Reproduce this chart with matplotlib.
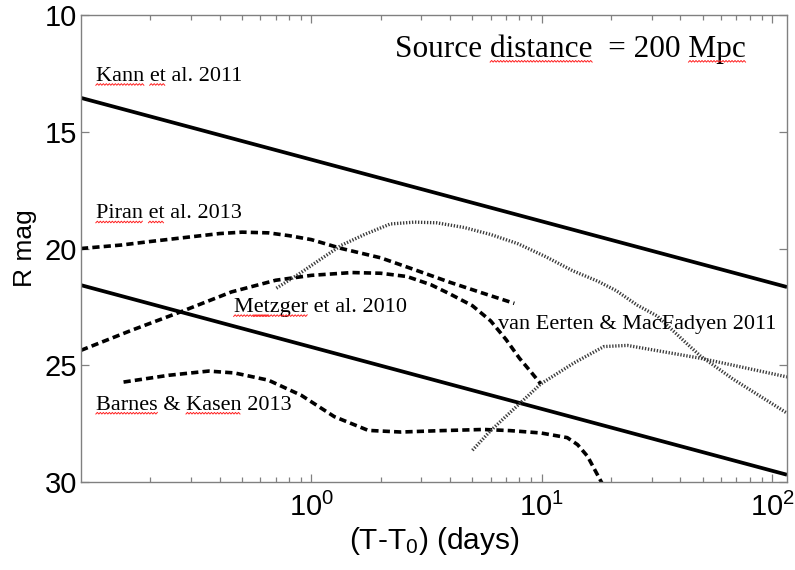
import numpy as np
import matplotlib
matplotlib.use("Agg")
import matplotlib.pyplot as plt
from matplotlib.ticker import FixedLocator, LogLocator, NullFormatter, NullLocator
from matplotlib.lines import Line2D
from matplotlib.transforms import IdentityTransform

# ---- light-curve data: time since merger (days) and R magnitude ----
# Kann et al. 2011 (upper and lower bound of observed short-GRB afterglows)
kann_t = [0.1, 116.0]
kann_upper_mag = [13.55, 21.65]
kann_lower_mag = [21.57, 29.69]

# Piran et al. 2013
piran_t = [0.1, 0.15, 0.2, 0.3, 0.4, 0.5, 0.65, 0.8, 1.0, 1.35, 2.0, 2.7, 4.0, 5.5, 7.6]
piran_mag = [20.0, 19.85, 19.7, 19.5, 19.36, 19.3, 19.33, 19.45, 19.62, 20.0, 20.4,
             20.85, 21.45, 21.9, 22.35]

# Metzger et al. 2010
metzger_t = [0.1, 0.166, 0.273, 0.45, 0.7, 1.0, 1.5, 2.0, 2.6, 3.3, 4.0, 5.0, 6.0,
             7.0, 8.0, 9.0, 9.9]
metzger_mag = [24.36, 23.5, 22.7, 21.86, 21.36, 21.15, 21.03, 21.06, 21.2, 21.55,
               21.95, 22.45, 23.1, 23.9, 24.7, 25.3, 25.8]

# Barnes & Kasen 2013
barnes_t = [0.153, 0.24, 0.358, 0.464, 0.651, 0.905, 1.257, 1.765, 2.45, 3.66, 5.6,
            7.3, 9.9, 12.9, 14.3, 15.8, 18.6]
barnes_mag = [25.72, 25.43, 25.25, 25.33, 25.64, 26.29, 27.2, 27.79, 27.86, 27.8,
              27.75, 27.8, 27.9, 28.1, 28.4, 28.9, 30.2]

# van Eerten & MacFadyen 2011 (two off-axis orphan afterglows)
vee1_t = [0.705, 0.88, 1.1, 1.35, 1.7, 2.2, 2.8, 3.5, 4.6, 6.0, 7.9, 10.4, 13.6, 17.5,
          21.0, 26.0, 31.8, 42.9, 48.8, 67.8, 116.0]
vee1_mag = [21.7, 21.1, 20.45, 19.86, 19.4, 18.95, 18.87, 18.9, 19.1, 19.4, 19.8,
            20.35, 20.95, 21.4, 21.8, 22.43, 22.9, 24.1, 24.6, 25.6, 27.05]
vee2_t = [5.0, 6.0, 7.9, 9.9, 13.8, 18.6, 23.5, 35.0, 48.8, 70.0, 116.0]
vee2_mag = [28.64, 27.8, 26.7, 25.8, 24.9, 24.2, 24.15, 24.45, 24.7, 25.03, 25.5]

model_labels = ["Kann et al. 2011", "Piran et al. 2013", "Metzger et al. 2010",
                "van Eerten & MacFadyen 2011", "Barnes & Kasen 2013"]
distance_note = "Source distance  = 200 Mpc"

x_ticks = [1, 10, 100]
x_ticklabels = [r"$10^0$", r"$10^1$", r"$10^2$"]
y_ticks = [10, 15, 20, 25, 30]

# ---- styling ----
plt.rcParams["font.family"] = ["Liberation Sans", "DejaVu Sans"]
plt.rcParams["mathtext.fontset"] = "custom"
plt.rcParams["mathtext.rm"] = "Liberation Sans"
plt.rcParams["mathtext.default"] = "regular"

SERIF = ["Liberation Serif", "DejaVu Serif"]
FRAME = "#808080"

fig = plt.figure(figsize=(7.95, 5.70), dpi=100)
ax = fig.add_axes([81 / 795, 1 - 482 / 570, (787 - 81) / 795, (482 - 15) / 570])

solid = dict(color="black", lw=2.7, solid_capstyle="butt")
dashed = dict(color="black", lw=2.6, linestyle=(0, (2.0, 1.15)))
dotted = dict(color="#3c3c3c", lw=2.4, linestyle=(0, (0.4, 0.5)))

ax.plot(kann_t, kann_upper_mag, **solid)
ax.plot(kann_t, kann_lower_mag, **solid)
ax.plot(piran_t, piran_mag, **dashed)
ax.plot(metzger_t, metzger_mag, **dashed)
ax.plot(barnes_t, barnes_mag, **dashed)
ax.plot(vee1_t, vee1_mag, **dotted)
ax.plot(vee2_t, vee2_mag, **dotted)

ax.set_xscale("log")
ax.set_xlim(0.1, 116)
ax.set_ylim(30, 10)

ax.xaxis.set_major_locator(FixedLocator(x_ticks))
ax.set_xticklabels(x_ticklabels)
ax.xaxis.set_minor_locator(LogLocator(base=10, subs=np.arange(2, 10)))
ax.xaxis.set_minor_formatter(NullFormatter())
ax.set_yticks(y_ticks)
ax.yaxis.set_minor_locator(NullLocator())

for sp in ax.spines.values():
    sp.set_color(FRAME)
    sp.set_linewidth(1.0)

ax.tick_params(which="both", direction="in", top=True, right=True,
               color=FRAME, width=0.9, labelcolor="black")
ax.tick_params(which="major", length=6, labelsize=21)
ax.tick_params(which="minor", length=3.5)
ax.tick_params(axis="x", which="major", pad=8)
ax.tick_params(axis="y", which="major", pad=3)

ax.set_ylabel("R mag", fontsize=19, labelpad=5)
ax.set_xlabel(r"(T-T$_\mathregular{0}$) (days)", fontsize=21.5, labelpad=2)

# ---- curve annotations ----
txt_kw = dict(family=SERIF, fontsize=16, ha="left", va="baseline", color="black")
t_kann = ax.text(0.116, 12.82, model_labels[0], **txt_kw)
t_piran = ax.text(0.116, 18.71, model_labels[1], **txt_kw)
t_metz = ax.text(0.46, 22.72, model_labels[2], **txt_kw)
t_vee = ax.text(6.45, 23.46, model_labels[3], **txt_kw)
t_barn = ax.text(0.116, 26.9, model_labels[4], **txt_kw)
t_note = ax.text(2.31, 11.79, distance_note, family=SERIF, fontsize=22.5,
                 ha="left", va="baseline", color="black")

# wavy red underlines beneath the flagged words
fig.canvas.draw()
renderer = fig.canvas.get_renderer()


def wavy_underline(txt, words, drop=3.6, step=1.5, amp=0.8):
    s = txt.get_text()
    fp = txt.get_fontproperties()
    x0, yb = txt.get_transform().transform(txt.get_position())
    for w in words:
        i = s.find(w)
        w0 = renderer.get_text_width_height_descent(s[:i], fp, ismath=False)[0] if i > 0 else 0.0
        w1 = renderer.get_text_width_height_descent(s[:i + len(w)], fp, ismath=False)[0]
        xs = np.arange(x0 + w0, x0 + w1, step)
        ys = yb - drop + np.where(np.arange(len(xs)) % 2 == 0, -amp, amp)
        fig.add_artist(Line2D(xs, ys, transform=IdentityTransform(),
                              color="#ff2020", lw=0.7))


wavy_underline(t_kann, ["Kann", "et"])
wavy_underline(t_piran, ["Piran", "et"])
wavy_underline(t_metz, ["Metzger", "et"])
wavy_underline(t_barn, ["Barnes", "Kasen"])
wavy_underline(t_note, ["distance", "Mpc"], drop=4.5)

fig.savefig("out.png", dpi=100)
